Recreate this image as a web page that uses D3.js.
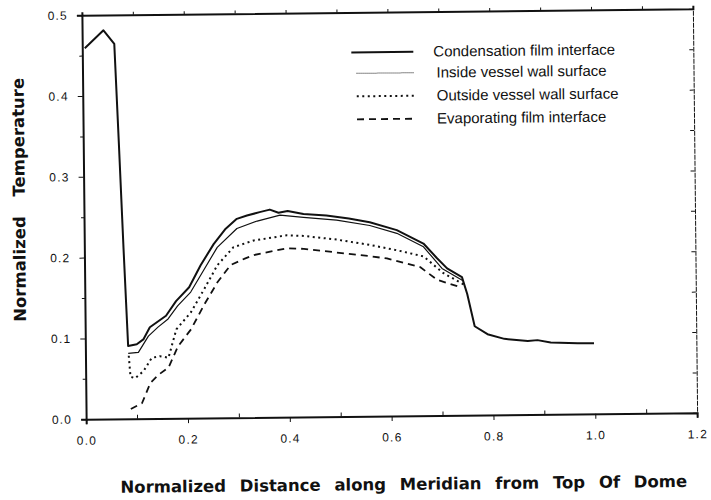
<!DOCTYPE html>
<html>
<head>
<meta charset="utf-8">
<script src="https://cdn.jsdelivr.net/npm/d3@7/dist/d3.min.js"></script>
<style>
  body { margin: 0; background: #fff; }
  svg { font-family: "Liberation Sans", Arial, sans-serif; }
  .tick text { font-size: 12px; letter-spacing: 1.2px; fill: #111; }
  .axis path, .axis line { stroke: #111; }
  .legend text { font-size: 15px; fill: #111; }
  .title { font-family: "DejaVu Sans", sans-serif; font-weight: bold; fill: #111; }
</style>
</head>
<body>
<svg width="711" height="500"></svg>
<script>
// Data: [distance, temperature]
var condensation = [
  [0.005, 0.459], [0.042, 0.481], [0.063, 0.464], [0.070, 0.340], [0.077, 0.210],
  [0.084, 0.090], [0.101, 0.092], [0.114, 0.098], [0.127, 0.113], [0.143, 0.120],
  [0.159, 0.127], [0.179, 0.145], [0.205, 0.162], [0.228, 0.189], [0.254, 0.215],
  [0.278, 0.234], [0.300, 0.246], [0.320, 0.250], [0.345, 0.254], [0.365, 0.257],
  [0.382, 0.253], [0.400, 0.255], [0.431, 0.251], [0.476, 0.249], [0.520, 0.245],
  [0.561, 0.240], [0.614, 0.230], [0.666, 0.213], [0.692, 0.195], [0.712, 0.182],
  [0.741, 0.171], [0.751, 0.150], [0.765, 0.110], [0.790, 0.100], [0.823, 0.094],
  [0.869, 0.091], [0.888, 0.092], [0.914, 0.089], [0.967, 0.0875], [0.999, 0.0875]
];
var insideWall = [
  [0.084, 0.081], [0.104, 0.082], [0.124, 0.102], [0.143, 0.113], [0.163, 0.123],
  [0.182, 0.139], [0.208, 0.156], [0.235, 0.184], [0.261, 0.211], [0.300, 0.234],
  [0.340, 0.243], [0.385, 0.250], [0.431, 0.247], [0.496, 0.243], [0.561, 0.236],
  [0.614, 0.226], [0.666, 0.209], [0.702, 0.182], [0.744, 0.166]
];
var outsideWall = [
  [0.085, 0.078], [0.088, 0.052], [0.097, 0.050], [0.114, 0.059], [0.130, 0.075],
  [0.146, 0.077], [0.163, 0.075], [0.179, 0.110], [0.208, 0.131], [0.235, 0.160],
  [0.261, 0.189], [0.293, 0.211], [0.333, 0.219], [0.398, 0.225], [0.431, 0.224],
  [0.496, 0.219], [0.561, 0.212], [0.614, 0.205], [0.666, 0.197], [0.705, 0.176],
  [0.744, 0.162]
];
var evaporating = [
  [0.088, 0.012], [0.110, 0.019], [0.127, 0.044], [0.143, 0.054], [0.163, 0.063],
  [0.182, 0.089], [0.208, 0.110], [0.235, 0.141], [0.261, 0.168], [0.287, 0.189],
  [0.316, 0.197], [0.333, 0.201], [0.398, 0.209], [0.431, 0.208], [0.496, 0.203],
  [0.561, 0.198], [0.594, 0.195], [0.659, 0.184], [0.692, 0.168], [0.740, 0.158]
];

var seriesNames = [
  "Condensation film interface",
  "Inside vessel wall surface",
  "Outside vessel wall surface",
  "Evaporating film interface"
];
var xTicks = [0, 0.2, 0.4, 0.6, 0.8, 1.0, 1.2];
var yTicks = [0, 0.1, 0.2, 0.3, 0.4, 0.5];

var series = [condensation, insideWall, outsideWall, evaporating];
var styles = [
  {width: 2, dash: null},
  {width: 1.2, dash: null},
  {width: 2, dash: "2,3.5"},
  {width: 1.8, dash: "7,5"}
];

var svg = d3.select("svg"),
    margin = {top: 12, right: 16, bottom: 84, left: 84},
    width = svg.attr("width") - margin.left - margin.right,
    height = svg.attr("height") - margin.top - margin.bottom;

// the scanned figure is tilted a little
var page = svg.append("g")
    .attr("transform", "rotate(-0.6, 390, 214)");

var g = page.append("g")
    .attr("transform", "translate(" + margin.left + "," + margin.top + ")");

var x = d3.scaleLinear().domain([0, 1.2]).range([0, width]),
    y = d3.scaleLinear().domain([0, 0.5]).range([height, 0]);

var fmt = d3.format(".1f");

// Axes
g.append("g")
    .attr("class", "axis axis--x")
    .attr("transform", "translate(0," + height + ")")
    .call(d3.axisBottom(x).tickValues(xTicks).tickFormat(fmt).tickSize(5).tickPadding(12))
    .call(function(a) { a.select(".domain").attr("stroke-width", 2); });

g.append("g")
    .attr("class", "axis")
    .attr("transform", "translate(0," + height + ")")
    .call(d3.axisBottom(x).tickValues([0.1, 0.3, 0.5, 0.7, 0.9, 1.1]).tickFormat("").tickSize(-4))
    .select(".domain").remove();

g.append("g")
    .attr("class", "axis axis--y")
    .call(d3.axisLeft(y).tickValues(yTicks).tickFormat(fmt).tickSize(5).tickPadding(9))
    .call(function(a) { a.select(".domain").attr("stroke-width", 2); });

g.append("g")
    .attr("class", "axis")
    .call(d3.axisLeft(y).tickValues([0.05, 0.15, 0.25, 0.35, 0.45]).tickFormat("").tickSize(3))
    .select(".domain").remove();

g.append("g")
    .attr("class", "axis")
    .call(d3.axisTop(x).tickValues(d3.range(1, 12).map(function(d) { return d / 10; })).tickFormat("").tickSize(3))
    .call(function(a) { a.select(".domain").attr("stroke-width", 2); });

g.append("g")
    .attr("class", "axis")
    .attr("transform", "translate(" + width + ",0)")
    .call(d3.axisRight(y).tickValues(d3.range(1, 10).map(function(d) { return d / 20; })).tickFormat("").tickSize(-4))
    .call(function(a) { a.select(".domain").attr("stroke-width", 1).attr("stroke-dasharray", "5,1"); });

g.selectAll(".axis .domain").attr("fill", "none");

// Curves
var line = d3.line()
    .x(function(d) { return x(d[0]); })
    .y(function(d) { return y(d[1]); });

g.selectAll(".curve")
    .data(series)
    .enter().append("path")
      .attr("class", "curve")
      .attr("fill", "none")
      .attr("stroke", "#111")
      .attr("stroke-linejoin", "round")
      .attr("stroke-width", function(d, i) { return styles[i].width; })
      .attr("stroke-dasharray", function(d, i) { return styles[i].dash; })
      .attr("d", line);

// Legend
var legend = page.append("g").attr("class", "legend");
var rowsY = [52, 73, 96, 119];

seriesNames.forEach(function(name, i) {
  legend.append("line")
      .attr("x1", i === 0 ? 353 : 358).attr("x2", 415)
      .attr("y1", rowsY[i]).attr("y2", rowsY[i])
      .attr("stroke", "#111")
      .attr("stroke-width", i === 1 ? 1 : styles[i].width)
      .attr("stroke-dasharray", i === 1 ? "1,1" : styles[i].dash);
  legend.append("text")
      .attr("x", i === 0 ? 435 : 438)
      .attr("y", rowsY[i] + 5)
      .text(name);
});

// Axis titles
page.append("text")
    .attr("class", "title")
    .attr("x", 401)
    .attr("y", 490)
    .attr("text-anchor", "middle")
    .style("font-size", "16.5px")
    .style("word-spacing", "8px")
    .text("Normalized Distance along Meridian from Top Of Dome");

page.append("text")
    .attr("class", "title")
    .attr("transform", "translate(25,196) rotate(-90)")
    .attr("text-anchor", "middle")
    .style("font-size", "16.5px")
    .style("word-spacing", "14px")
    .text("Normalized Temperature");
</script>
</body>
</html>
